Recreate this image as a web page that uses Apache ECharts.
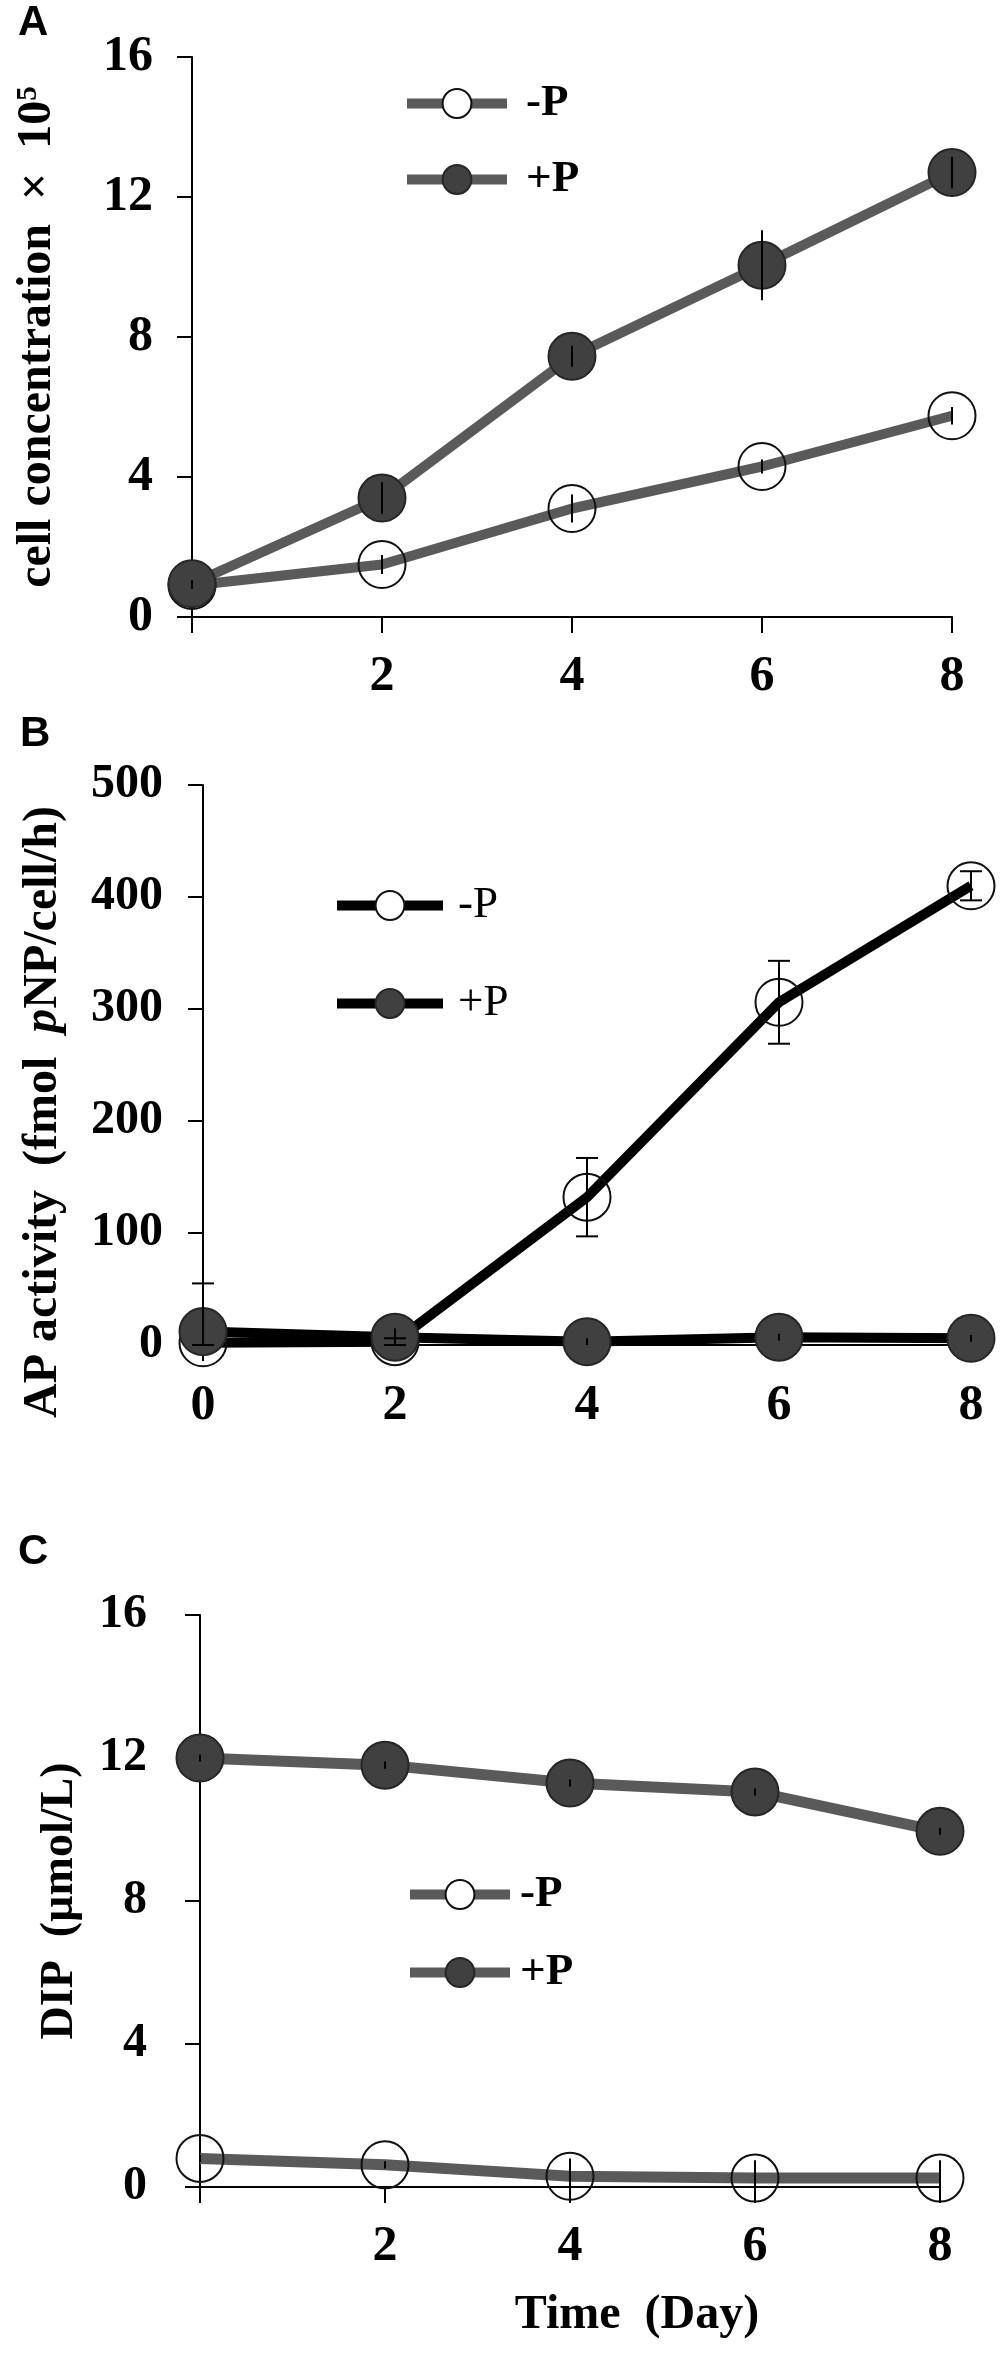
<!DOCTYPE html>
<html>
<head>
<meta charset="utf-8">
<script src="https://cdn.jsdelivr.net/npm/echarts@6/dist/echarts.min.js"></script>
<style>
    html, body { margin: 0; padding: 0; background: #fff; }
    #chart { width: 1000px; height: 2355px; }
</style>
</head>
<body>
<div id="chart"></div>
<script>
// 三个面板共用的时间点
const days = [0, 2, 4, 6, 8];

// A: cell concentration
const cellMinusP = [0.9, 1.5, 3.1, 4.3, 5.75];
const cellPlusP = [0.95, 3.4, 7.45, 10.05, 12.7];
const cellMinusErr = [0.1, 0.27, 0.4, 0.2, 0.25];
const cellPlusErr = [0.1, 0.45, 0.3, 1.0, 0.45];

// B: AP activity
const apMinusP = [2, 3, 132, 306, 410];
const apPlusP = [12, 7, 3, 7, 6];
const apMinusErr = [53, 3, 35, 37, 13];
const apPlusErr = [5, 8, 3, 3, 3];

// C: DIP
const dipMinusP = [0.8, 0.62, 0.3, 0.25, 0.25];
const dipPlusP = [12.0, 11.8, 11.3, 11.05, 9.95];
const dipMinusErr = [0.1, 0.1, 0.5, 0.5, 0.5];
const dipPlusErr = [0.1, 0.1, 0.1, 0.1, 0.1];

const SERIF = "'Liberation Serif', 'Times New Roman', serif";
const GRAY_LINE = '#5a5a5a';
const FILL = '#404040';

function pairs(vals) {
    return days.map((d, i) => [d, vals[i]]);
}

function lineSeries(name, idx, vals, filled, lineColor, lineWidth) {
    return {
        name: name,
        type: 'line',
        xAxisIndex: idx,
        yAxisIndex: idx,
        data: pairs(vals),
        symbol: 'circle',
        symbolSize: 47,
        clip: false,
        z: filled ? 4 : 3,
        lineStyle: { color: lineColor, width: lineWidth },
        itemStyle: filled
            ? { color: FILL, borderColor: '#262626', borderWidth: 2 }
            : { color: 'rgba(0,0,0,0)', borderColor: '#111', borderWidth: 2 },
        emphasis: { disabled: true }
    };
}

function errorSeries(idx, vals, errs, capW) {
    return {
        type: 'custom',
        xAxisIndex: idx,
        yAxisIndex: idx,
        z: 10,
        silent: true,
        data: days.map((d, i) => [d, Math.max(0, vals[i] - errs[i]), vals[i] + errs[i]]),
        encode: { x: 0, y: [1, 2] },
        renderItem: function (params, api) {
            const lo = api.coord([api.value(0), api.value(1)]);
            const hi = api.coord([api.value(0), api.value(2)]);
            const style = { stroke: '#000', lineWidth: 2 };
            const children = [
                { type: 'line', shape: { x1: lo[0], y1: lo[1], x2: hi[0], y2: hi[1] }, style: style }
            ];
            if (capW) {
                children.push({ type: 'line', shape: { x1: lo[0] - capW, y1: lo[1], x2: lo[0] + capW, y2: lo[1] }, style: style });
                children.push({ type: 'line', shape: { x1: hi[0] - capW, y1: hi[1], x2: hi[0] + capW, y2: hi[1] }, style: style });
            }
            return { type: 'group', children: children };
        }
    };
}

function legendFor(prefix, left, top, itemWidth, gap, bold, textGap) {
    return {
        orient: 'vertical',
        left: left,
        top: top,
        itemWidth: itemWidth,
        itemHeight: 36,
        itemGap: gap,
        selectedMode: false,
        data: [
            { name: prefix + ':-P', itemStyle: { color: '#fff' } },
            { name: prefix + ':+P' }
        ],
        formatter: n => n.split(':')[1],
        lineStyle: { width: 10 },
        itemStyle: { borderWidth: 2 },
        textStyle: {
            fontFamily: SERIF,
            fontSize: 45,
            fontWeight: bold ? 'bold' : 'normal',
            color: '#000',
            padding: [0, 0, 0, textGap]
        }
    };
}

function xAxisFor(idx, showZero, margin) {
    return {
        type: 'value',
        gridIndex: idx,
        min: 0,
        max: 8,
        interval: 2,
        axisLine: { show: true, onZero: false, lineStyle: { color: '#000', width: 2 } },
        axisTick: { show: true, length: 16, lineStyle: { color: '#000', width: 2 } },
        splitLine: { show: false },
        axisLabel: {
            color: '#000',
            fontFamily: SERIF,
            fontSize: 50,
            fontWeight: 'bold',
            margin: margin,
            formatter: v => (v === 0 && !showZero) ? '' : String(v)
        }
    };
}

function yAxisFor(idx, max, interval, fontSize, margin) {
    return {
        type: 'value',
        gridIndex: idx,
        min: 0,
        max: max,
        interval: interval,
        axisLine: { show: true, lineStyle: { color: '#000', width: 2 } },
        axisTick: { show: true, length: 15, lineStyle: { color: '#000', width: 2 } },
        splitLine: { show: false },
        axisLabel: {
            color: '#000',
            fontFamily: SERIF,
            fontSize: fontSize,
            fontWeight: 'bold',
            margin: margin
        },
        nameLocation: 'middle'
    };
}

const chart = echarts.init(document.getElementById('chart'));

const yA = yAxisFor(0, 16, 4, 50, 39);
yA.name = 'cell concentration  \u00d7  10{sup|5}';
yA.nameGap = 130;
yA.nameTextStyle = {
    color: '#000', fontFamily: SERIF, fontSize: 48, fontWeight: 'bold',
    rich: { sup: { fontFamily: SERIF, fontSize: 29, fontWeight: 'bold', verticalAlign: 'top', color: '#000' } }
};

const yB = yAxisFor(1, 500, 100, 48, 40);

const yC = yAxisFor(2, 16, 4, 48, 53);
yC.name = 'DIP  (\u00b5mol/L)';
yC.nameGap = 117;
yC.nameTextStyle = { color: '#000', fontFamily: SERIF, fontSize: 46, fontWeight: 'bold' };

const xC = xAxisFor(2, false, 35);
xC.name = 'Time  (Day)';
xC.nameLocation = 'middle';
xC.nameGap = 105;
xC.nameTextStyle = {
    color: '#000', fontFamily: SERIF, fontSize: 48, fontWeight: 'bold',
    padding: [0, 0, 0, 134]
};

const LETTER_FONT = 'bold 42px "Liberation Sans", Arial, sans-serif';

const option = {
    animation: false,
    backgroundColor: '#fff',
    grid: [
        { left: 192, top: 57, width: 760, height: 560 },
        { left: 203, top: 785, width: 768, height: 560 },
        { left: 200, top: 1615, width: 740, height: 572 }
    ],
    xAxis: [xAxisFor(0, false, 35), xAxisFor(1, true, 36), xC],
    yAxis: [yA, yB, yC],
    legend: [
        legendFor('A', 397, 76, 100, 31, true, 14),
        legendFor('B', 327, 878, 106, 53, false, 10),
        legendFor('C', 400, 1867, 100, 33, true, 5)
    ],
    graphic: [
        { type: 'text', left: 18, top: 2, style: { text: 'A', font: LETTER_FONT, fill: '#000' } },
        { type: 'text', left: 20, top: 713, style: { text: 'B', font: LETTER_FONT, fill: '#000' } },
        { type: 'text', left: 18, top: 1531, style: { text: 'C', font: LETTER_FONT, fill: '#000' } },
        // B 的纵轴标题比绘图区中心偏下，单独放
        {
            type: 'text',
            x: 44,
            y: 1112,
            rotation: Math.PI / 2,
            style: {
                text: 'AP activity  (fmol  {it|p}NP/cell/h)',
                fontFamily: SERIF,
                fontSize: 48,
                fontWeight: 'bold',
                fill: '#000',
                align: 'center',
                verticalAlign: 'middle',
                rich: {
                    it: { fontFamily: SERIF, fontSize: 48, fontWeight: 'bold', fontStyle: 'italic', fill: '#000' }
                }
            }
        }
    ],
    series: [
        lineSeries('A:-P', 0, cellMinusP, false, GRAY_LINE, 10),
        lineSeries('A:+P', 0, cellPlusP, true, GRAY_LINE, 10),
        errorSeries(0, cellMinusP, cellMinusErr, 0),
        errorSeries(0, cellPlusP, cellPlusErr, 0),

        lineSeries('B:-P', 1, apMinusP, false, '#000', 10),
        lineSeries('B:+P', 1, apPlusP, true, '#000', 10),
        errorSeries(1, apMinusP, apMinusErr, 11),
        errorSeries(1, apPlusP, apPlusErr, 0),

        lineSeries('C:-P', 2, dipMinusP, false, GRAY_LINE, 11),
        lineSeries('C:+P', 2, dipPlusP, true, GRAY_LINE, 11),
        errorSeries(2, dipMinusP, dipMinusErr, 0),
        errorSeries(2, dipPlusP, dipPlusErr, 0)
    ]
};

chart.setOption(option);
</script>
</body>
</html>
